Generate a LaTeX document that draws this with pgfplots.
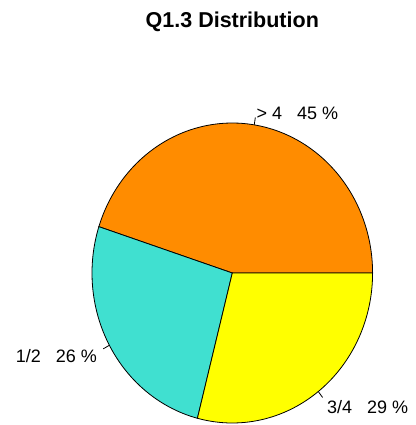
\documentclass[border=0pt]{standalone}
\usepackage{fontspec}
\setmainfont{Liberation Sans}
\usepackage{pgfplots}
\pgfplotsset{compat=1.18}
\definecolor{pieorange}{HTML}{FF8C00}
\definecolor{pieturq}{HTML}{40E0D0}
\definecolor{pieyellow}{HTML}{FFFF00}
% data (percent)
\def\pA{45}% > 4
\def\pB{26}% 1/2
\def\pC{29}% 3/4
\pgfmathsetmacro{\aA}{0}
\pgfmathsetmacro{\aB}{\aA+3.6*\pA}
\pgfmathsetmacro{\aC}{\aB+3.6*\pB}
\pgfmathsetmacro{\aD}{\aC+3.6*\pC}
\pgfmathsetmacro{\mA}{(\aA+\aB)/2}
\pgfmathsetmacro{\mB}{(\aB+\aC)/2}
\pgfmathsetmacro{\mC}{(\aC+\aD)/2}
\begin{document}
\begin{tikzpicture}
\begin{axis}[hide axis, x=140.3bp, y=150bp,
  xmin=-1.6557, xmax=1.3093, ymin=-1.0133, ymax=1.82,
  clip=false, axis line style={draw=none}]
\path (axis cs:-1.6557,-1.0133) rectangle (axis cs:1.3093,1.82);
\addplot[draw=black, line width=0.8bp, fill=pieorange, domain=\aA:\aB, samples=90, variable=\t, smooth]
  ({cos(\t)},{sin(\t)}) -- (axis cs:0,0) -- cycle;
\addplot[draw=black, line width=0.8bp, fill=pieturq, domain=\aB:\aC, samples=60, variable=\t, smooth]
  ({cos(\t)},{sin(\t)}) -- (axis cs:0,0) -- cycle;
\addplot[draw=black, line width=0.8bp, fill=pieyellow, domain=\aC:\aD, samples=60, variable=\t, smooth]
  ({cos(\t)},{sin(\t)}) -- (axis cs:0,0) -- cycle;
% ticks
\draw[line width=0.8bp] (axis cs:{cos(\mA)},{sin(\mA)}) -- (axis cs:{1.05*cos(\mA)},{1.05*sin(\mA)});
\draw[line width=0.8bp] (axis cs:{cos(\mB)},{sin(\mB)}) -- (axis cs:{1.05*cos(\mB)},{1.05*sin(\mB)});
\draw[line width=0.8bp] (axis cs:{cos(\mC)},{sin(\mC)}) -- (axis cs:{1.05*cos(\mC)},{1.05*sin(\mC)});
% labels
\node[anchor=base west, inner sep=0pt, yshift=-9.8bp, font=\fontsize{18bp}{21bp}\selectfont]
  at (axis cs:{1.1*cos(\mA)},{1.1*sin(\mA)}) {> 4\hspace{15bp}45 \%};
\node[anchor=base east, inner sep=0pt, yshift=-9.8bp, font=\fontsize{18bp}{21bp}\selectfont]
  at (axis cs:{1.1*cos(\mB)},{1.1*sin(\mB)}) {1/2\hspace{15bp}26 \%};
\node[anchor=base west, inner sep=0pt, yshift=-9.8bp, font=\fontsize{18bp}{21bp}\selectfont]
  at (axis cs:{1.1*cos(\mC)},{1.1*sin(\mC)}) {3/4\hspace{15bp}29 \%};
% title
\node[anchor=base, inner sep=0pt, font=\fontsize{21.5bp}{25bp}\selectfont\bfseries]
  at (axis cs:0,1.635) {Q1.3 Distribution};
\end{axis}
\end{tikzpicture}
\end{document}
